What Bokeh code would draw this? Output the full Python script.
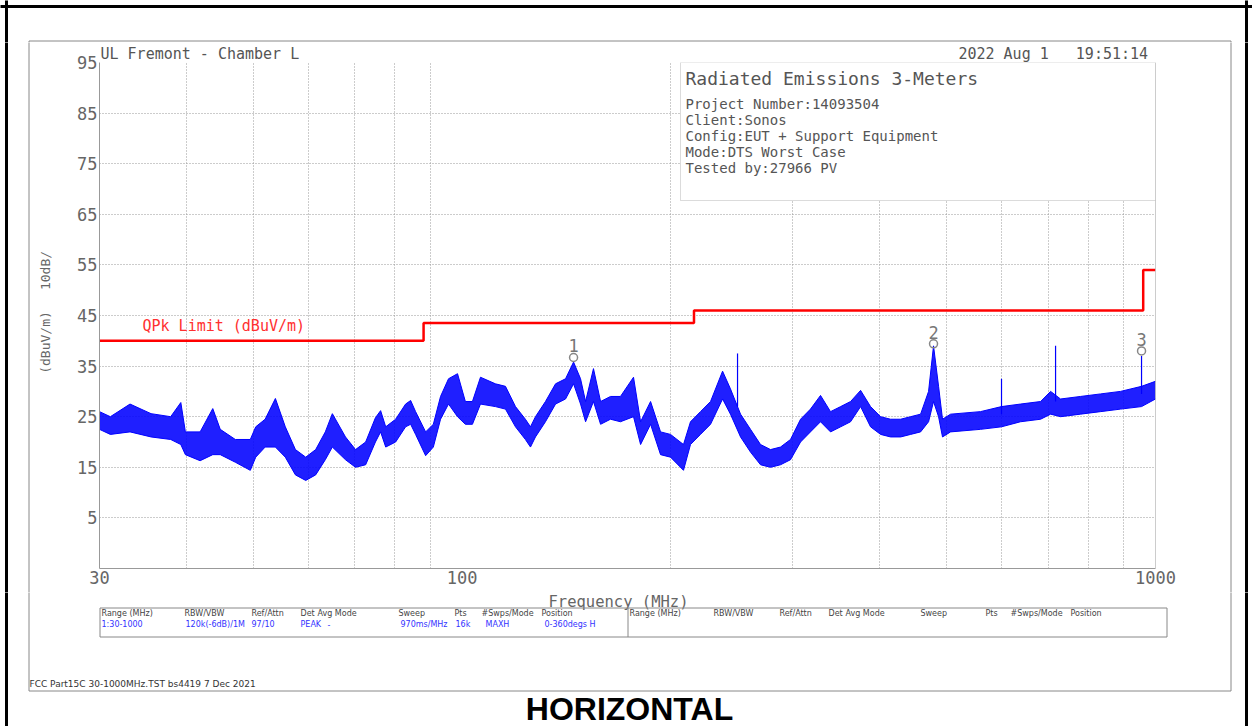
from bokeh.plotting import figure
from bokeh.layouts import column, row
from bokeh.models import FixedTicker, BoxAnnotation, Label, Span, Range1d
from bokeh.core.properties import value
from bokeh.embed import file_html
from bokeh.resources import INLINE
import math

# ---------------- data ----------------
freq = [30.0, 31.1, 33.2, 35.6, 38.0, 39.3, 39.9, 41.9, 43.7, 44.8, 47.1, 49.5, 50.4, 52.0,
        53.8, 55.6, 57.5, 59.5, 61.5, 63.5, 65.0, 67.9, 70.2, 72.6, 75.0, 76.3, 77.6, 80.2,
        82.9, 84.3, 85.7, 88.6, 90.9, 93.1, 95.6, 98.5, 101.1, 103.5, 106.3, 111.7, 115.5,
        119.4, 123.4, 125.5, 127.6, 131.9, 136.4, 141.0, 144.8, 148.2, 150.7, 154.7, 158.4,
        163.7, 169.2, 176.7, 180.9, 187.0, 193.3, 199.8, 208.6, 213.5, 220.7, 228.2, 237.5,
        243.8, 252.1, 260.6, 269.4, 278.5, 287.9, 297.6, 307.7, 318.0, 328.8, 339.9, 351.5,
        363.3, 375.6, 388.2, 401.4, 414.9, 429.0, 443.4, 458.4, 470.7, 478.5, 486.6, 493.0,
        506.4, 559.2, 599.7, 638.7, 682.8, 705.9, 729.6, 779.4, 833.1, 890.4, 954.7, 1000.0]
level_lo = [22.5, 21.5, 22.0, 21.0, 20.5, 19.5, 17.5, 16.3, 17.5, 17.5, 16.0, 14.4, 17.0, 19.0,
            19.0, 17.0, 13.5, 12.4, 13.5, 16.5, 19.0, 16.5, 15.0, 15.5, 20.0, 22.0, 19.0, 20.0,
            23.0, 23.5, 21.5, 17.3, 19.0, 24.5, 27.5, 25.0, 23.5, 23.5, 27.5, 27.0, 26.5,
            23.0, 20.5, 19.0, 21.0, 24.0, 27.5, 28.5, 31.5, 27.5, 24.0, 28.0, 23.5,
            24.5, 24.0, 25.0, 19.5, 23.5, 17.5, 17.0, 14.4, 19.5, 21.5, 23.5, 28.5,
            25.5, 21.0, 18.0, 15.5, 15.0, 15.5, 16.5, 20.0, 22.0, 24.0, 22.0, 23.0,
            24.0, 27.0, 23.0, 21.5, 21.0, 21.0, 21.5, 22.0, 24.0, 28.0, 25.0, 21.0,
            22.0, 22.5, 23.0, 24.0, 24.5, 25.5, 25.0, 25.5, 26.0, 26.5, 27.0, 28.5]
level_hi = [26.0, 25.0, 27.5, 25.6, 25.0, 27.8, 22.0, 22.0, 26.6, 22.5, 20.5, 20.5, 23.0, 24.5,
            28.6, 23.0, 18.5, 17.0, 18.5, 22.0, 25.6, 21.0, 18.5, 20.0, 24.8, 26.2, 23.0, 24.5,
            27.5, 28.2, 26.0, 22.0, 23.5, 29.0, 32.5, 33.5, 28.0, 28.0, 32.8, 31.5, 31.0,
            27.0, 24.5, 23.0, 25.0, 28.0, 31.5, 32.5, 35.8, 32.5, 28.0, 34.5, 28.0,
            29.0, 29.0, 32.8, 24.0, 28.0, 22.0, 21.5, 19.5, 24.0, 26.0, 28.0, 34.0,
            30.5, 25.5, 22.5, 19.5, 18.5, 19.0, 20.5, 24.5, 26.5, 29.2, 26.0, 27.0,
            28.0, 30.2, 27.0, 25.0, 24.5, 24.5, 25.0, 25.5, 30.0, 39.0, 31.0, 24.5,
            25.5, 26.0, 27.0, 27.5, 28.0, 30.0, 28.5, 29.0, 29.5, 30.0, 31.0, 32.0]

spike_freq = [249.6, 599.7, 717.6, 954.7]
spike_base = [27.0, 25.5, 28.0, 29.5]
spike_top = [37.5, 32.5, 39.0, 37.0]

limit_freq = [30, 88, 88, 216, 216, 960, 960, 1000]
limit_level = [40, 40, 43.5, 43.5, 46, 46, 54, 54]

marker_freq = [144.8, 478.5, 954.7]
marker_level = [36.7, 39.4, 38.0]
marker_label = ["1", "2", "3"]

y_ticks = [5, 15, 25, 35, 45, 55, 65, 75, 85, 95]
y_grid = [5, 15, 25, 35, 45, 55, 65, 75, 85]
x_ticks = [30, 100, 1000]
x_tick_labels = ["30", "100", "1000"]
x_grid = [40, 50, 60, 70, 80, 90, 200, 300, 400, 500, 600, 700, 800, 900]

header_site = "UL Fremont - Chamber L"
header_date = "2022 Aug 1"
header_time = "19:51:14"
info_title = "Radiated Emissions 3-Meters"
info_lines = ["Project Number:14093504", "Client:Sonos", "Config:EUT + Support Equipment",
              "Mode:DTS Worst Case", "Tested by:27966 PV"]
table_head = ["Range (MHz)", "RBW/VBW", "Ref/Attn", "Det", "Avg Mode", "Sweep", "Pts",
              "#Swps/Mode", "Position"]
table_vals = ["1:30-1000", "120k(-6dB)/1M", "97/10", "PEAK", "-", "970ms/MHz", "16k",
              "MAXH", "0-360degs H"]

MONO = "DejaVu Sans Mono"
GRAY = "#666666"
TXT = "#555555"
NBSP = "\u00a0"


# ---------------- decorative strips (coordinates = page pixels) ----------------
def strip(x0, x1, y0, y1):
    f = figure(width=x1 - x0, height=y1 - y0, x_range=Range1d(x0, x1),
               y_range=Range1d(y1, y0), min_border=0, toolbar_location=None,
               output_backend="svg", x_axis_location=None, y_axis_location=None,
               frame_align=False)
    f.grid.visible = False
    f.outline_line_color = None
    f.background_fill_color = "white"
    f.border_fill_color = "white"
    # outer black border and inner grey frame
    f.segment(x0=[6, 1246, -10], y0=[-10, -10, 6], x1=[6, 1246, 1262], y1=[900, 900, 6],
              line_color="black", line_width=3)
    f.segment(x0=[28.5, 1230.5, 28.5, 28.5], y0=[40.5, 40.5, 40.5, 690.5],
              x1=[28.5, 1230.5, 1230.5, 1230.5], y1=[690.5, 690.5, 40.5, 690.5],
              line_color="#888888", line_width=1)
    return f


def txt(f, x, y, s, size, color=TXT, font=MONO, align="left", baseline="middle",
        style="normal", angle=0.0):
    f.text(x=[x], y=[y], text=[s], text_font=value(font), text_font_size=size,
           text_color=color, text_align=align, text_baseline=baseline,
           text_font_style=style, angle=angle)


TOP, MIDB = 42, 592

# top strip
T = strip(0, 1252, 0, TOP)

# left / right strips
L = strip(0, 56, TOP, MIDB)
txt(L, 45, 270, "10dB/", "13px", GRAY, align="center", angle=math.pi / 2)
txt(L, 45, 342, "(dBuV/m)", "13px", GRAY, align="center", angle=math.pi / 2)
R = strip(1180, 1252, TOP, MIDB)

# bottom strip
B = strip(0, 1252, MIDB, 726)
txt(B, 618, 601.5, "Frequency (MHz)", "15.5px", GRAY, align="center")
B.quad(left=[99.5], right=[1166.5], top=[607.5], bottom=[636.5], fill_color=None,
       line_color="#888888", line_width=1)
B.segment(x0=[627.5], y0=[607.5], x1=[627.5], y1=[636.5], line_color="#888888", line_width=1)
left_cols = [101, 184, 251, 300, 317, 398, 454, 481, 541]
val_cols = [101, 185, 251, 300, 327, 400, 455, 485, 544]
right_cols = [629, 713, 779, 828, 845, 920, 985, 1010, 1070]
for t, x in zip(table_head, left_cols):
    txt(B, x, 613, t, "8px", "#444444", font="DejaVu Sans")
for t, x in zip(table_vals, val_cols):
    txt(B, x, 624, t, "8px", "#3333ff", font="DejaVu Sans")
for t, x in zip(table_head, right_cols):
    txt(B, x, 613, t, "8px", "#444444", font="DejaVu Sans")
txt(B, 29, 683, "FCC Part15C 30-1000MHz.TST bs4419  7 Dec 2021", "9px", "#333333",
    font="DejaVu Sans")
txt(B, 629, 708, "HORIZONTAL", "32px", "black", font="Liberation Sans", align="center",
    style="bold")

# ---------------- chart ----------------
p = figure(width=1124, height=MIDB - TOP, x_axis_type="log", x_range=(30, 1000),
           y_range=(-5, 95), output_backend="svg", toolbar_location=None, frame_align=False,
           min_border_left=43, min_border_right=25, min_border_top=62 - TOP,
           min_border_bottom=MIDB - 568)
p.outline_line_color = None
p.background_fill_color = "white"
p.border_fill_color = "white"

# header line (site name, date and time) as the plot title, monospaced columns
p.title.text = header_site + NBSP * 73 + header_date + NBSP * 3 + header_time
p.title.align = "left"
p.title.offset = 1
p.title.standoff = 0
p.title.text_font = MONO
p.title.text_font_size = "15px"
p.title.text_font_style = "normal"
p.title.text_color = TXT

for ax in (p.xaxis, p.yaxis):
    ax.major_tick_line_color = None
    ax.minor_tick_line_color = None
    ax.major_tick_out = 0
    ax.major_tick_in = 0
    ax.minor_tick_out = 0
    ax.minor_tick_in = 0
    ax.axis_line_color = "#999999"
    ax.major_label_text_font = MONO
    ax.major_label_text_font_size = "17px"
    ax.major_label_text_color = GRAY
    ax.major_label_standoff = 2

p.xaxis.ticker = FixedTicker(ticks=x_ticks, minor_ticks=[])
p.xaxis.major_label_overrides = {t: l for t, l in zip(x_ticks, x_tick_labels)}
p.yaxis.ticker = FixedTicker(ticks=y_ticks, minor_ticks=[])

p.xgrid.ticker = FixedTicker(ticks=x_grid)
p.ygrid.ticker = FixedTicker(ticks=y_grid)
for g in (p.xgrid, p.ygrid):
    g.grid_line_color = "#999999"
    g.grid_line_dash = "1 2"
    g.grid_line_width = 1

p.add_layout(Span(location=1000, dimension="height", line_color="#999999", line_width=1))

# trace
p.varea(x=freq, y1=level_lo, y2=level_hi, fill_color="#0000ff", fill_alpha=0.88)
p.line(freq, level_lo, line_color="#0000ff", line_width=1)
p.line(freq, level_hi, line_color="#0000ff", line_width=1)
p.segment(x0=spike_freq, y0=spike_base, x1=spike_freq, y1=spike_top,
          line_color="#0000ff", line_width=1.2)

# limit line
p.line(limit_freq, limit_level, line_color="#ff0000", line_width=2.5)

# markers
p.scatter(marker_freq, marker_level, marker="circle", size=8, fill_color=None,
          line_color="#888888", line_width=1.5)
p.text(x=marker_freq, y=marker_level, text=marker_label, text_align="center",
       text_baseline="bottom", y_offset=-5, text_font=value(MONO), text_font_size="17px",
       text_color="#777777")

# annotations inside the frame (screen units relative to the frame)
FL, FB = 99, 568
def sx(rx):
    return rx - FL
def sy(ry):
    return FB - ry

p.add_layout(BoxAnnotation(left=sx(680), right=sx(1155), top=sy(62), bottom=sy(200),
                           left_units="screen", right_units="screen", top_units="screen",
                           bottom_units="screen", fill_color="white", fill_alpha=1.0,
                           line_color="#888888", line_width=1))

def lab(rx, ry, s, size, color=TXT):
    return Label(x=sx(rx), y=sy(ry), x_units="screen", y_units="screen", text=s,
                 text_font=MONO, text_font_size=size, text_color=color,
                 text_baseline="middle")

p.add_layout(lab(685, 78, info_title, "18px"))
for i, s in enumerate(info_lines):
    p.add_layout(lab(685, 103 + 16 * i, s, "14px"))
p.add_layout(lab(142, 325, "QPk Limit (dBuV/m)", "15px", "#ff3030"))

layout = column(T, row(L, p, R), B)
open("out.html", "w").write(file_html(layout, INLINE))
